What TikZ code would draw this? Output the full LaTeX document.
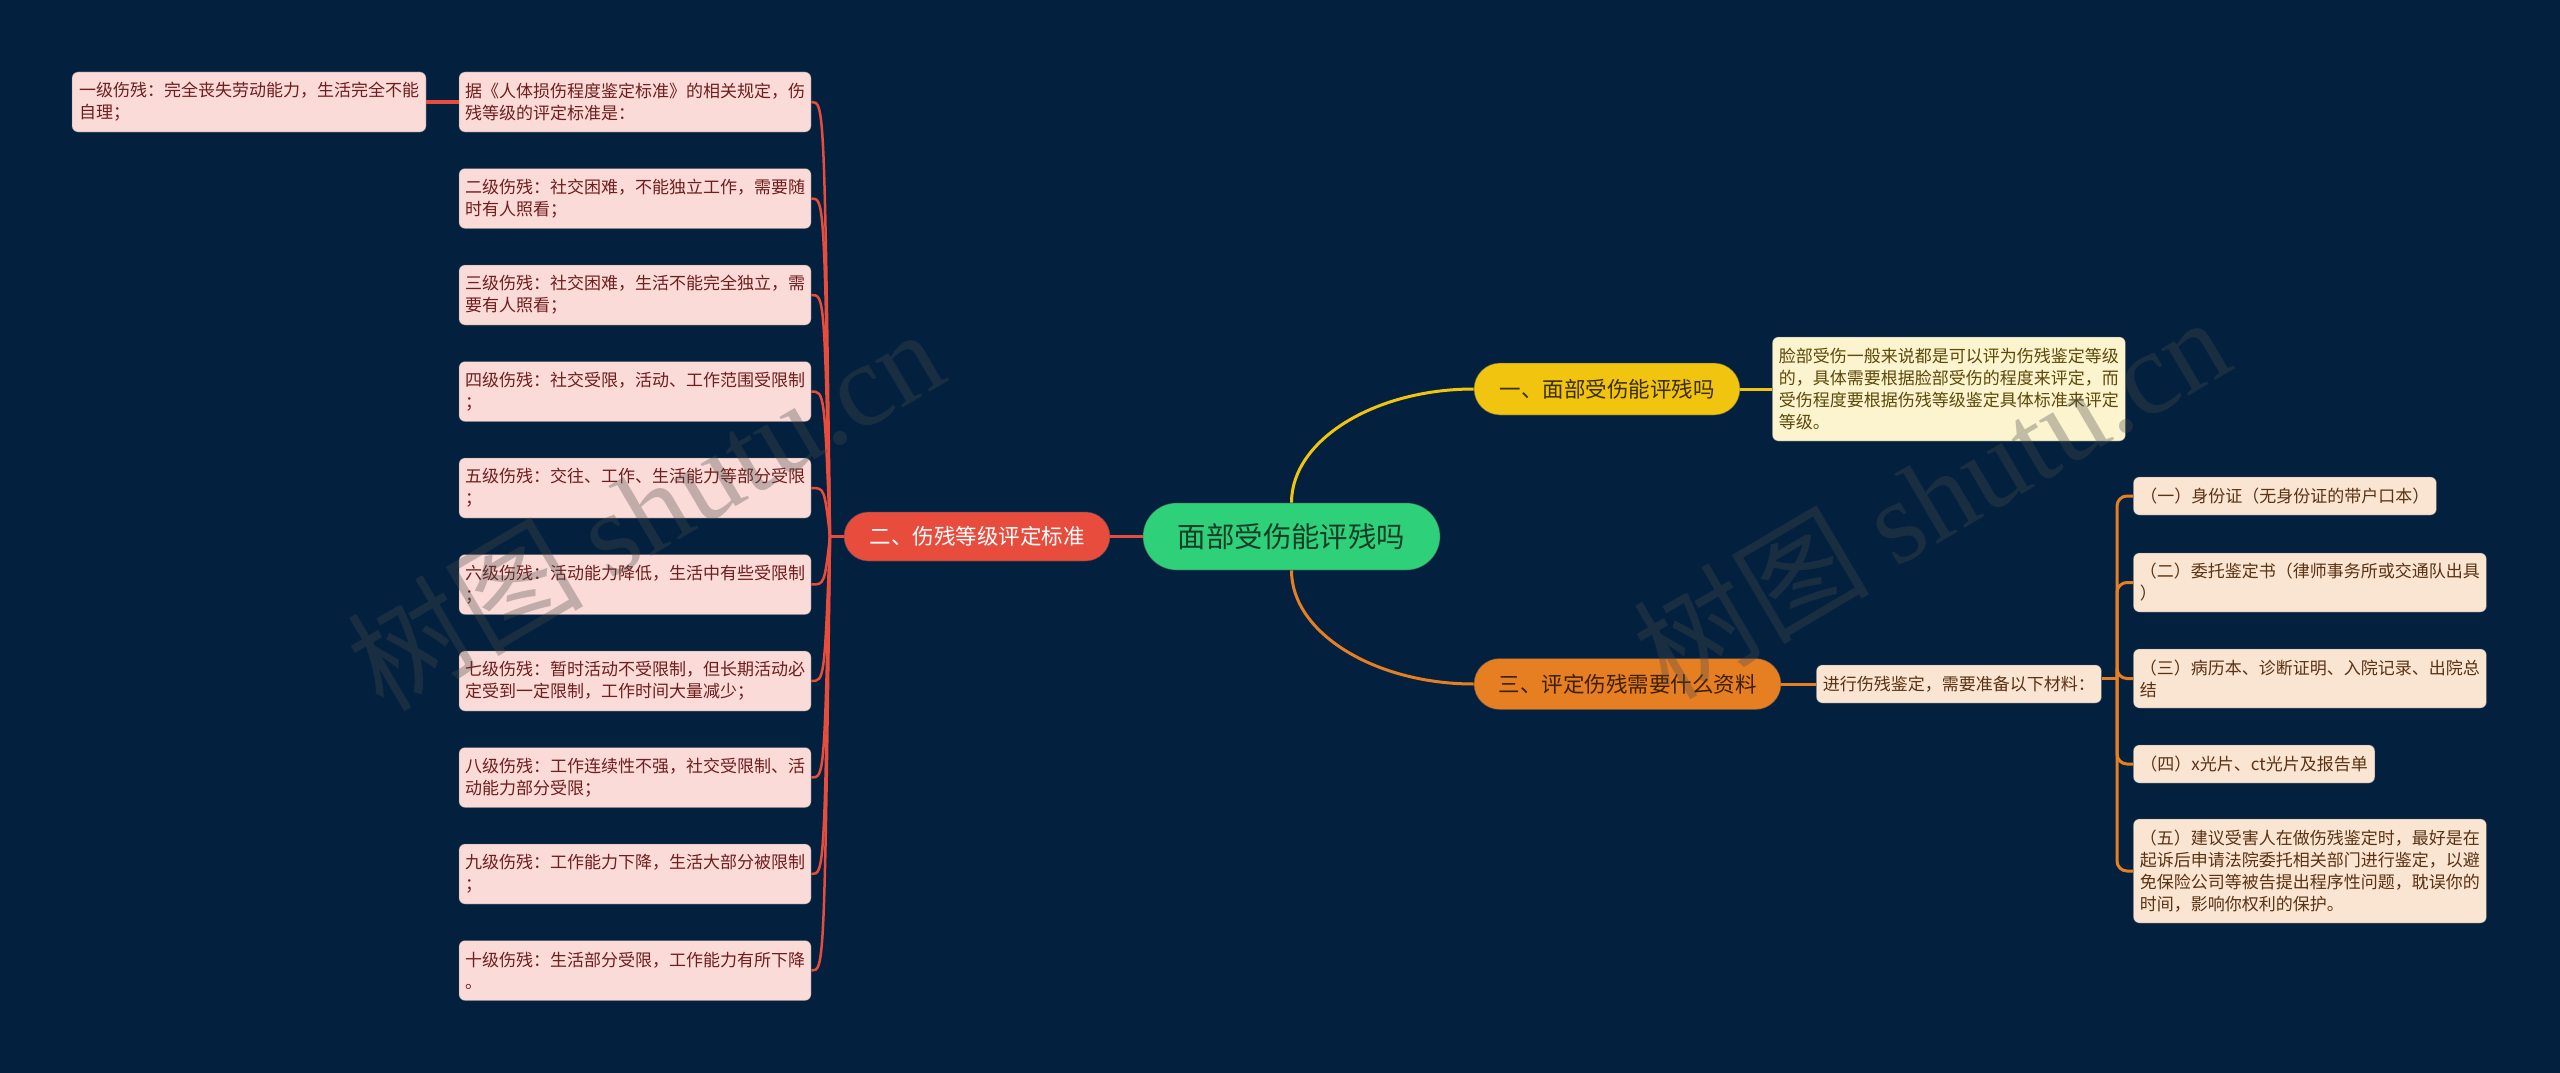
\documentclass[tikz,border=0pt]{standalone}
\usepackage{fontspec}
\setmainfont{Noto Sans CJK SC}
\newfontfamily\wmserif{Liberation Serif}
\usetikzlibrary{shapes.misc,calc}
\definecolor{bg}{RGB}{3,33,63}
\definecolor{cgreen}{RGB}{47,208,122}
\definecolor{cgreentext}{RGB}{20,62,36}
\definecolor{cred}{RGB}{231,76,60}
\definecolor{cyellow}{RGB}{241,196,15}
\definecolor{cyellowtext}{RGB}{58,46,0}
\definecolor{corange}{RGB}{230,126,34}
\definecolor{corangetext}{RGB}{61,31,0}
\definecolor{pinkfill}{RGB}{250,219,216}
\definecolor{pinktext}{RGB}{110,30,30}
\definecolor{creamfill}{RGB}{252,243,207}
\definecolor{creamtext}{RGB}{92,74,10}
\definecolor{peachfill}{RGB}{250,229,211}
\definecolor{peachtext}{RGB}{90,50,20}
\definecolor{wmgray}{RGB}{75,75,75}
\tikzset{
  boxbase/.style={rounded corners=6pt, inner ysep=0pt, align=left,
    draw=black!60, draw opacity=0.35, line width=0.8pt,
    font=\fontsize{17}{22}\selectfont},
  lbox/.style={boxbase, fill=pinkfill, text=pinktext, text width=340pt,
    inner xsep=6pt, minimum height=60pt},
  leafbox/.style={boxbase, fill=creamfill, text=creamtext, text width=340pt,
    inner xsep=6.5pt, anchor=west},
  rbox/.style={boxbase, fill=peachfill, text=peachtext, inner xsep=7pt, anchor=west},
  pill/.style={rounded rectangle, inner sep=0pt, draw=black!70, draw opacity=0.5,
    line width=0.8pt, font=\fontsize{21.5}{24}\selectfont},
  redline/.style={draw=cred, line width=2.5pt},
  yellowline/.style={draw=cyellow, line width=3pt},
  orangeline/.style={draw=corange, line width=3pt},
  wm/.style={rotate=30.5, text=wmgray, text opacity=0.32,
    font=\fontsize{118}{118}\selectfont}
}
\begin{document}
\begin{tikzpicture}[x=1pt,y=-1pt]
\fill[bg] (0,0) rectangle (2560,1073);
\useasboundingbox (0,0) rectangle (2560,1073);

% centre and main branches
\node[pill, fill=cgreen, text=cgreentext, minimum width=297pt, minimum height=67pt,
  font=\fontsize{28.4}{30}\selectfont] (C) at (1291.5,536.5) {面部受伤能评残吗};
\node[pill, fill=cred, text=white, minimum width=266pt, minimum height=49pt] (B2) at (977,536.5) {二、伤残等级评定标准};
\node[pill, fill=cyellow, text=cyellowtext, minimum width=266pt, minimum height=52pt] (B1) at (1607,389) {一、面部受伤能评残吗};
\node[pill, fill=corange, text=corangetext, minimum width=307pt, minimum height=51pt] (B3) at (1627.5,684) {三、评定伤残需要什么资料};

% left column
\node[lbox] (l0) at (635,102) {据《人体损伤程度鉴定标准》的相关规定，伤\\残等级的评定标准是：};
\node[lbox] (l1) at (635,198.5) {二级伤残：社交困难，不能独立工作，需要随\\时有人照看；};
\node[lbox] (l2) at (635,295) {三级伤残：社交困难，生活不能完全独立，需\\要有人照看；};
\node[lbox] (l3) at (635,391.5) {四级伤残：社交受限，活动、工作范围受限制\\；};
\node[lbox] (l4) at (635,488) {五级伤残：交往、工作、生活能力等部分受限\\；};
\node[lbox] (l5) at (635,584.5) {六级伤残：活动能力降低，生活中有些受限制\\；};
\node[lbox] (l6) at (635,681) {七级伤残：暂时活动不受限制，但长期活动必\\定受到一定限制，工作时间大量减少；};
\node[lbox] (l7) at (635,777.5) {八级伤残：工作连续性不强，社交受限制、活\\动能力部分受限；};
\node[lbox] (l8) at (635,874) {九级伤残：工作能力下降，生活大部分被限制\\；};
\node[lbox] (l9) at (635,970.5) {十级伤残：生活部分受限，工作能力有所下降\\。};
\node[lbox, inner xsep=7pt] (lone) at (249,102) {一级伤残：完全丧失劳动能力，生活完全不能\\自理；};

% right side
\node[leafbox, minimum height=104pt] (leaf1) at (1772,389) {脸部受伤一般来说都是可以评为伤残鉴定等级\\的，具体需要根据脸部受伤的程度来评定，而\\受伤程度要根据伤残等级鉴定具体标准来评定\\等级。};
\node[rbox, inner xsep=6.5pt, minimum height=38pt] (L3) at (1816,684) {进行伤残鉴定，需要准备以下材料：};
\node[rbox, minimum height=38pt] (c1) at (2133,496) {（一）身份证（无身份证的带户口本）};
\node[rbox, text width=340pt, inner xsep=6.5pt, minimum height=59pt] (c2) at (2133,582.5) {（二）委托鉴定书（律师事务所或交通队出具\\）};
\node[rbox, text width=340pt, inner xsep=6.5pt, minimum height=59pt] (c3) at (2133,678.5) {（三）病历本、诊断证明、入院记录、出院总\\结};
\node[rbox, minimum height=38pt] (c4) at (2133,764) {（四）x光片、ct光片及报告单};
\node[rbox, text width=340pt, inner xsep=6.5pt, minimum height=104pt] (c5) at (2133,871) {（五）建议受害人在做伤残鉴定时，最好是在\\起诉后申请法院委托相关部门进行鉴定，以避\\免保险公司等被告提出程序性问题，耽误你的\\时间，影响你权利的保护。};

% connectors: left
\coordinate (j2) at (830,536.5);
\draw[redline] (B2.west) -- (j2);
\foreach \n in {l0,l1,l2,l3,l4,l5,l6,l7,l8,l9}{
  \draw[redline] (j2) .. controls ($(\n.east)+(13,0)$) .. (\n.east);
}
\draw[redline, line width=3.5pt] (lone.east) -- (l0.west);
\draw[redline, line width=3pt] (B2.east) -- (C.west);

% connectors: right
\draw[yellowline] (C.north) .. controls ($(C.north)+(0,-63)$) and ($(B1.west)+(-98,0)$) .. (B1.west);
\draw[orangeline] (C.south) .. controls ($(C.south)+(0,63)$) and ($(B3.west)+(-98,0)$) .. (B3.west);
\draw[yellowline] (B1.east) -- (leaf1.west);
\draw[orangeline] (B3.east) -- (L3.west);
\coordinate (j3) at (2117,678.5);
\draw[orangeline] (L3.east |- j3) -- (j3);
\foreach \n in {c1,c2,c3,c4,c5}{
  \draw[orangeline, rounded corners=10pt] (j3) |- (\n.west);
}

% watermarks
\node[wm] (wm1) at (645,508) {树图 {\wmserif shutu.cn}};
\node[wm] (wm2) at (1931,496) {树图 {\wmserif shutu.cn}};
\end{tikzpicture}
\end{document}
